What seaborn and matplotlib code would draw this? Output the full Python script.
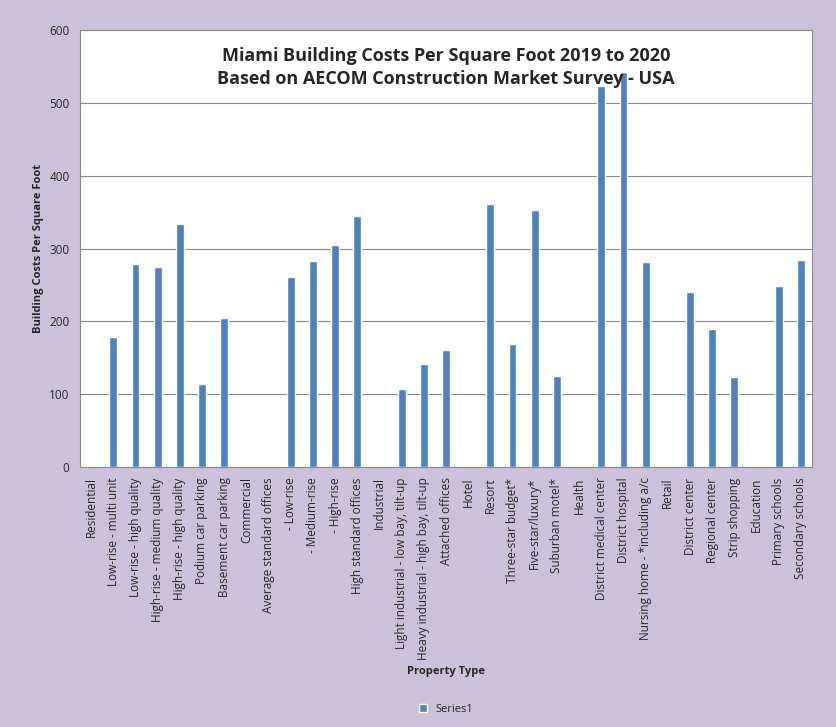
import matplotlib
matplotlib.use("Agg")
import matplotlib.pyplot as plt
import seaborn as sns
import pandas as pd

categories = ['Residential', 'Low-rise - multi unit', 'Low-rise - high quality',
              'High-rise - medium quality', 'High-rise - high quality', 'Podium car parking',
              'Basement car parking', 'Commercial', 'Average standard offices', ' - Low-rise',
              ' - Medium-rise', ' - High-rise', 'High standard offices', 'Industrial',
              'Light industrial - low bay, tilt-up', 'Heavy industrial - high bay, tilt-up',
              'Attached offices', 'Hotel', 'Resort', 'Three-star budget*', 'Five-star/luxury*',
              'Suburban motel*', 'Health', 'District medical center', 'District hospital',
              'Nursing home - *including a/c', 'Retail', 'District center', 'Regional center',
              'Strip shopping', 'Education', 'Primary schools', 'Secondary schools']
values = [0, 179, 279, 275, 333, 114, 205, 0, 0, 261, 283, 305, 345, 0, 107, 142, 161, 0,
          361, 169, 353, 125, 0, 523, 542, 281, 0, 240, 189, 124, 0, 249, 284]

df = pd.DataFrame({'Property Type': categories, 'Cost': values})

sns.set_style("white")
plt.rcParams['font.family'] = ['Open Sans', 'DejaVu Sans']

fig = plt.figure(figsize=(8.37, 7.27), dpi=100, facecolor='#CCC1DA')
ax = fig.add_axes([80 / 837, 1 - 467 / 727, 732 / 837, 437 / 727])
sns.barplot(data=df, x='Property Type', y='Cost', color='#4F81BD', saturation=1,
            width=0.35, ax=ax, label='Series1')

ax.set_ylim(0, 600)
ax.set_yticks(range(0, 601, 100))
ax.yaxis.grid(True, color='#888888', linewidth=0.8)
ax.set_axisbelow(True)
ax.set_xlim(-0.5, len(categories) - 0.5)
ax.tick_params(axis='x', labelrotation=90, labelsize=8.5, length=4, direction='out')
ax.tick_params(axis='y', labelsize=8.5, length=4, direction='out')
ax.set_xticks([i + 0.5 for i in range(len(categories))], minor=True)
for s in ax.spines.values():
    s.set_color('#888888')
ax.set_ylabel('Building Costs Per Square Foot', fontsize=8, fontweight='bold')
ax.set_xlabel('Property Type', fontsize=8, fontweight='bold')
ax.text(0.5, 0.96, 'Miami Building Costs Per Square Foot 2019 to 2020\nBased on AECOM Construction Market Survey - USA',
        transform=ax.transAxes, ha='center', va='top', fontsize=13, fontweight='bold',
        linespacing=1.3)
ax.legend(loc='upper center', bbox_to_anchor=(0.5, -0.52), frameon=False, fontsize=8,
          handlelength=0.7, handleheight=0.7)

fig.savefig('out.png', dpi=100, facecolor=fig.get_facecolor())
